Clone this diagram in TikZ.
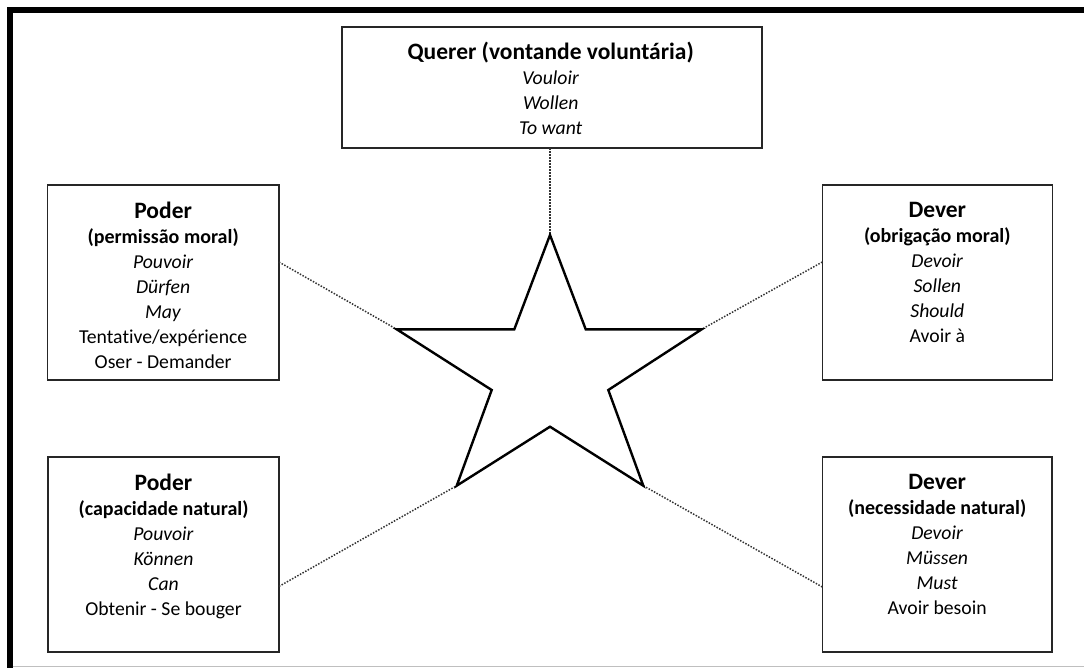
\documentclass[tikz,border=0pt]{standalone}
\usepackage{fontspec}
\setmainfont{Carlito}[Ligatures=NoCommon]
\usetikzlibrary{calc}

\tikzset{
  box/.style={draw=black!85, line width=1.6pt, fill=white, anchor=north west,
    inner sep=0pt, outer sep=0pt},
  txt/.style={align=center, anchor=north, inner sep=0pt,
    font=\fontsize{19.7}{25}\selectfont},
  link/.style={draw=black!80, line width=1.5pt, dash pattern=on 1.5pt off 1.5pt},
  starline/.style={draw=black, line width=2.4pt, line join=miter, fill=white},
}
\newcommand{\ttl}[1]{{\fontsize{23.5}{25}\selectfont\bfseries #1}}
\newcommand{\sub}[1]{{\fontsize{20}{25}\selectfont\bfseries #1}}

\begin{document}
\begin{tikzpicture}[x=1pt, y=-1pt]
  \useasboundingbox (0,0) rectangle (1084,668);

  % page frame
  \draw[black, line width=5.5pt] (1090,9.9) -- (9.8,9.9) -- (9.8,672);
  \draw[black!25, line width=1pt] (12.5,666.5) -- (1090,666.5);

  % boxes
  \node[box, minimum width=420pt, minimum height=121pt] (q) at (341.7,27.3) {};
  \node[box, minimum width=231.7pt, minimum height=195pt] (pm) at (47.3,185) {};
  \node[box, minimum width=230pt, minimum height=195pt] (dm) at (822.3,185) {};
  \node[box, minimum width=231pt, minimum height=195pt] (pn) at (48,456.7) {};
  \node[box, minimum width=229.7pt, minimum height=195pt] (dn) at (822.3,456.7) {};

  % star points
  \coordinate (s1) at (550,235);
  \coordinate (s2) at (585.7,329.3);
  \coordinate (s3) at (701.7,329.3);
  \coordinate (s4) at (608.3,390);
  \coordinate (s5) at (643.3,485.7);
  \coordinate (s6) at (550,426.7);
  \coordinate (s7) at (456.7,485.7);
  \coordinate (s8) at (491.7,390);
  \coordinate (s9) at (396.7,329.3);
  \coordinate (s10) at (514.3,329.3);

  % connectors
  \coordinate (pmE) at ($(pm.north east)!0.395!(pm.south east)$);
  \coordinate (dmW) at ($(dm.north west)!0.395!(dm.south west)$);
  \coordinate (pnE) at ($(pn.north east)!0.665!(pn.south east)$);
  \coordinate (dnW) at ($(dn.north west)!0.668!(dn.south west)$);
  \draw[link] (q.south -| s1) -- (s1);
  \draw[link] (pmE) -- (s9);
  \draw[link] (dmW) -- (s3);
  \draw[link] (pnE) -- (s7);
  \draw[link] (dnW) -- (s5);

  % star
  \draw[starline] (s1) -- (s2) -- (s3) -- (s4) -- (s5) -- (s6) -- (s7) -- (s8) -- (s9) -- (s10) -- cycle;

  % texts
  \node[txt] (tq) at ($(q.north)+(-1,14.5)$)
    {\ttl{Querer (vontande voluntária)}\\ \textit{Vouloir}\\ \textit{Wollen}\\ \textit{To want}};
  \node[txt] (tpm) at ($(pm.north)+(0,17)$)
    {\ttl{Poder}\\ \sub{(permissão moral)}\\ \textit{Pouvoir}\\ \textit{Dürfen}\\ \textit{May}\\ Tentative/expérience\\ Oser - Demander};
  \node[txt] (tdm) at ($(dm.north)+(0,17)$)
    {\ttl{Dever}\\ \sub{(obrigação\ moral)}\\ \textit{Devoir}\\ \textit{Sollen}\\ \textit{Should}\\ Avoir à};
  \node[txt] (tpn) at ($(pn.north)+(0,17)$)
    {\ttl{Poder}\\ \sub{(capacidade\ natural)}\\ \textit{Pouvoir}\\ \textit{Können}\\ \textit{Can}\\ Obtenir - Se bouger};
  \node[txt] (tdn) at ($(dn.north)+(0,17)$)
    {\ttl{Dever}\\ \sub{(necessidade natural)}\\ \textit{Devoir}\\ \textit{Müssen}\\ \textit{Must}\\ Avoir besoin};
\end{tikzpicture}
\end{document}
